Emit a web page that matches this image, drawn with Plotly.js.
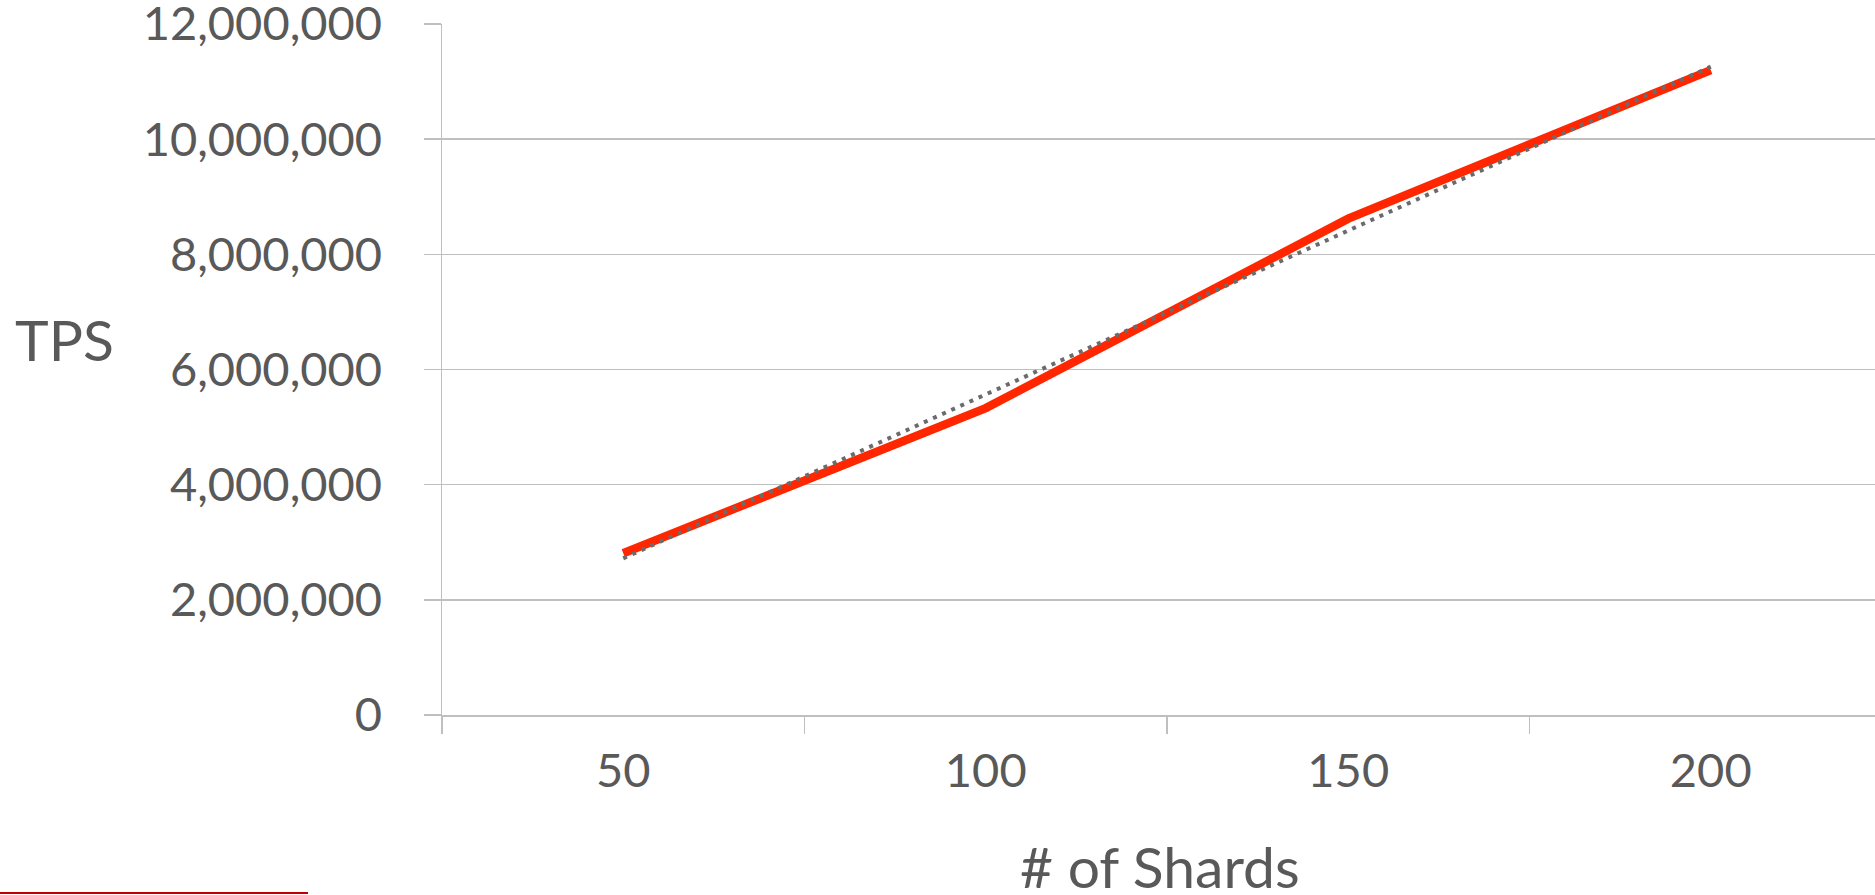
<!DOCTYPE html>
<html>
<head>
<meta charset="utf-8">
<script src="https://cdn.plot.ly/plotly-3.0.1.min.js"></script>
<style>html,body{margin:0;padding:0;background:#fff;}#chart{width:1875px;height:895px;}</style>
</head>
<body>
<div id="chart"></div>
<script>
// Data
const shards = ['50', '100', '150', '200'];
const tps = [2810000, 5330000, 8620000, 11200000];
const yTickVals = [0, 2000000, 4000000, 6000000, 8000000, 10000000, 12000000];

// Linear trendline (least squares on category index), as in the spreadsheet chart
const n = tps.length;
const idx = shards.map((_, i) => i + 1);
const mx = idx.reduce((a, b) => a + b, 0) / n;
const my = tps.reduce((a, b) => a + b, 0) / n;
let sxy = 0, sxx = 0;
for (let i = 0; i < n; i++) { sxy += (idx[i] - mx) * (tps[i] - my); sxx += (idx[i] - mx) ** 2; }
const slope = sxy / sxx, intercept = my - slope * mx;
const trend = idx.map(v => intercept + slope * v);

const W = 1875, H = 895;
const L = 442, T = 24, B = 180, R = 0;
const pw = W - L - R, ph = H - T - B;
const px = x => (x - L) / pw;
const py = y => (H - B - y) / ph;

const textColor = '#595959';
const gridColor = '#bfbfbf';
const font = 'Lato, "Open Sans", sans-serif';

const traces = [
  {
    x: shards, y: tps, type: 'scatter', mode: 'lines', name: 'TPS',
    line: {color: '#ff2600', width: 8.5}, hoverinfo: 'x+y'
  },
  {
    x: shards, y: trend, type: 'scatter', mode: 'lines', name: 'Linear (TPS)',
    line: {color: '#6b6b6b', width: 4, dash: '4px,6px'}, hoverinfo: 'skip'
  }
];

const layout = {
  width: W, height: H,
  margin: {l: L, r: R, t: T, b: B, pad: 0},
  paper_bgcolor: '#ffffff', plot_bgcolor: '#ffffff',
  showlegend: false,
  font: {family: font, color: textColor},
  xaxis: {
    type: 'category',
    range: [-0.5, -0.5 + pw / 362.5],
    tickson: 'boundaries',
    ticks: 'outside', ticklen: 17, tickwidth: 1.5, tickcolor: gridColor,
    showgrid: false, zeroline: false,
    showline: true, linecolor: gridColor, linewidth: 1.5,
    tickfont: {family: font, size: 47, color: textColor},
    ticklabelstandoff: 14,
    fixedrange: true
  },
  yaxis: {
    range: [0, 12000000],
    tickvals: yTickVals,
    tickformat: ',d',
    ticks: 'outside', ticklen: 17, tickwidth: 1.5, tickcolor: gridColor,
    showgrid: true, gridcolor: gridColor, gridwidth: 1.5,
    zeroline: false,
    showline: true, linecolor: gridColor, linewidth: 1.5,
    tickfont: {family: font, size: 47, color: textColor},
    ticklabelstandoff: 32,
    ticklabeloverflow: 'allow',
    fixedrange: true
  },
  annotations: [
    {text: 'TPS', xref: 'paper', yref: 'paper', x: px(64), y: py(339),
     xanchor: 'center', yanchor: 'middle', showarrow: false,
     font: {family: font, size: 57, color: textColor}},
    {text: '# of Shards', xref: 'paper', yref: 'paper', x: px(1160), y: py(866),
     xanchor: 'center', yanchor: 'middle', showarrow: false,
     font: {family: font, size: 57, color: textColor}}
  ],
  shapes: [
    {type: 'line', xref: 'paper', yref: 'paper', x0: px(0), x1: px(308), y0: py(893), y1: py(893),
     line: {color: '#c00000', width: 2}}
  ]
};

Plotly.newPlot('chart', traces, layout, {displayModeBar: false, staticPlot: true});
</script>
</body>
</html>
